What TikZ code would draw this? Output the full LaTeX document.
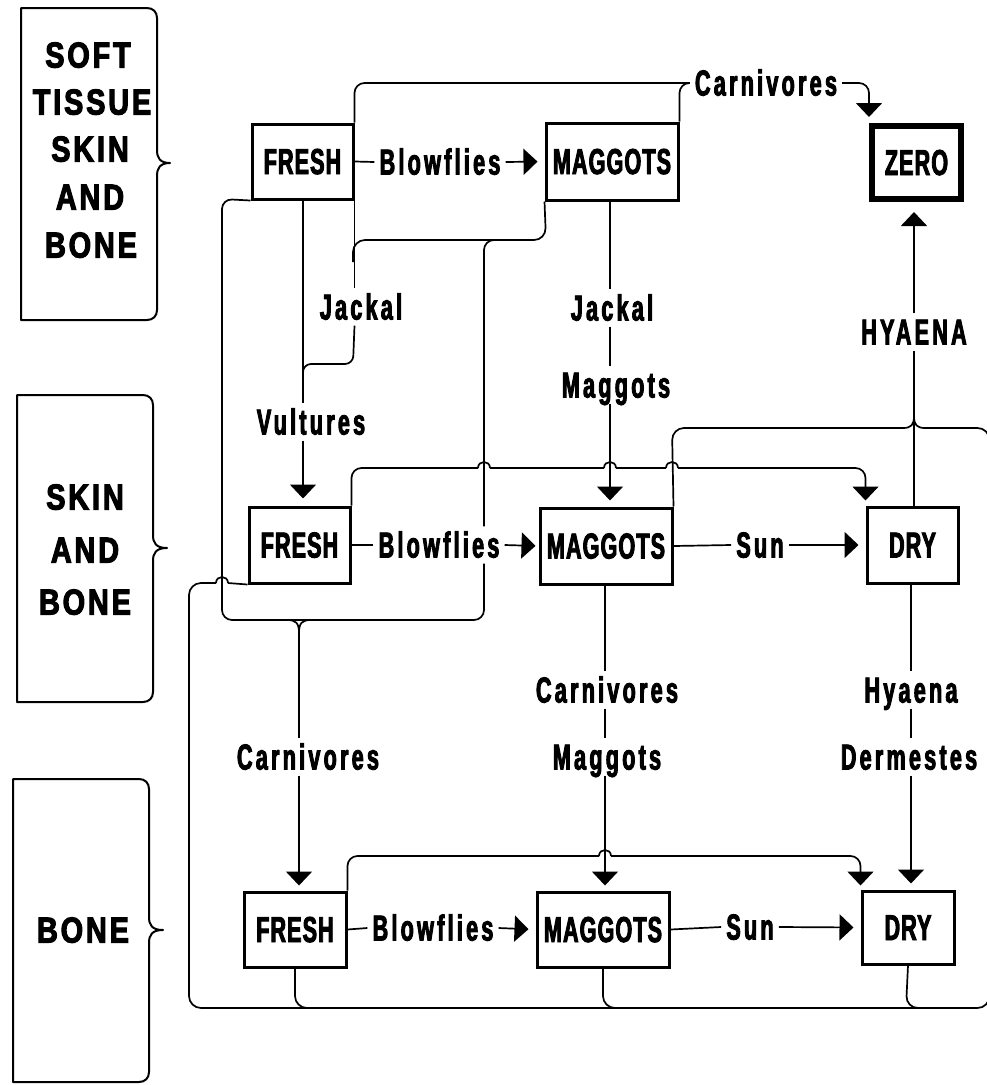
\documentclass[tikz,border=0pt]{standalone}
\usepackage{fontspec}
\usetikzlibrary{arrows.meta}
\newfontfamily\boxfont{Liberation Sans}[FakeStretch=0.6,LetterSpace=3,FakeBold=2.5]
\newfontfamily\edgefont{Liberation Sans}[FakeStretch=0.6,LetterSpace=9,FakeBold=2.5]
\newfontfamily\sidefont{Liberation Sans}[FakeStretch=0.8,LetterSpace=8,FakeBold=3]
\tikzset{
  box/.style={draw, line width=3pt, inner sep=0pt, font=\boxfont\bfseries\fontsize{36}{40}\selectfont, text height=25pt, text depth=0pt},
  lab/.style={inner xsep=5pt, inner ysep=6pt, font=\edgefont\bfseries\fontsize{36}{40}\selectfont, text height=25pt, text depth=0pt},
  sidetext/.style={inner sep=0pt, font=\sidefont\bfseries\fontsize{36}{40}\selectfont, text height=25pt, text depth=0pt},
  conn/.style={line width=1.7pt},
  arr/.style={conn, -{Triangle[length=14pt,width=26pt]}},
  bracket/.style={line width=2pt, line join=round},
}
\begin{document}
\begin{tikzpicture}[x=1pt,y=-1pt]
\useasboundingbox (0,0) rectangle (987,1085);

% ---------- side brackets ----------
\draw[bracket] (21,320) -- (21,8) -- (147,8) .. controls (153,8) and (157,12) .. (157,18)
  -- (157,150) .. controls (157,158) and (160,163) .. (170,163)
  .. controls (160,163) and (157,168) .. (157,176) -- (157,310)
  .. controls (157,316) and (153,320) .. (147,320) -- cycle;
\draw[bracket] (17,702) -- (17,395) -- (143,395) .. controls (149,395) and (153,399) .. (153,405)
  -- (153,535) .. controls (153,543) and (156,548) .. (167,548)
  .. controls (156,548) and (153,553) .. (153,561) -- (153,692)
  .. controls (153,698) and (149,702) .. (143,702) -- cycle;
\draw[bracket] (13,1082) -- (13,779) -- (139,779) .. controls (145,779) and (149,783) .. (149,789)
  -- (149,917) .. controls (149,925) and (152,930) .. (163,930)
  .. controls (152,930) and (149,935) .. (149,943) -- (149,1072)
  .. controls (149,1078) and (145,1082) .. (139,1082) -- cycle;

\node[sidetext] (sa) at (88,55) {SOFT};
\node[sidetext] (sb) at (92,102) {TISSUE};
\node[sidetext] (sc) at (90,149) {SKIN};
\node[sidetext] (sd) at (90,197) {AND};
\node[sidetext] (se) at (91,245) {BONE};
\node[sidetext] (ta) at (85,497) {SKIN};
\node[sidetext] (tb) at (85,550) {AND};
\node[sidetext] (tc) at (85,602) {BONE};
\node[sidetext] (ua) at (83,930) {BONE};

% ---------- boxes ----------
\node[box, minimum width=101pt, minimum height=75pt] (F1) at (302.5,161.5) {FRESH};
\node[box, minimum width=132pt, minimum height=77pt] (M1) at (612,161.5) {MAGGOTS};
\node[box, line width=6pt, minimum width=89pt, minimum height=73pt] (Z) at (916.5,162.5) {ZERO};
\draw[line width=1.2pt] ([shift={(5,-5)}]Z.south west) rectangle ([shift={(-5,5)}]Z.north east);
\node[box, minimum width=101pt, minimum height=76pt] (F2) at (299.5,545) {FRESH};
\node[box, minimum width=132pt, minimum height=76pt] (M2) at (606,546) {MAGGOTS};
\node[box, minimum width=91pt, minimum height=76pt] (D2) at (912.5,545) {DRY};
\node[box, minimum width=102pt, minimum height=75pt] (F3) at (295,929.5) {FRESH};
\node[box, minimum width=132pt, minimum height=75pt] (M3) at (603,929.5) {MAGGOTS};
\node[box, minimum width=92pt, minimum height=73pt] (D3) at (908,927.5) {DRY};

% ---------- labels ----------
\node[lab] (bl1) at (440,162) {Blowflies};
\node[lab] (bl2) at (439,545) {Blowflies};
\node[lab] (bl3) at (433,928) {Blowflies};
\node[lab] (sun2) at (760,545) {Sun};
\node[lab] (sun3) at (750,927) {Sun};
\node[lab] (carn1) at (766,83) {Carnivores};
\node[lab] (jack1) at (361,307) {Jackal};
\node[lab] (vult) at (311,422) {Vultures};
\node[lab] (jack2) at (612,308) {Jackal};
\node[lab] (mag1) at (616,385) {Maggots};
\node[lab] (hyA) at (914,332) {HYAENA};
\node[lab] (carn2) at (308,757) {Carnivores};
\node[lab] (carn3) at (607,690) {Carnivores};
\node[lab] (mag2) at (607,757) {Maggots};
\node[lab] (hy) at (911,690) {Hyaena};
\node[lab] (derm) at (909,757) {Dermestes};

% column coordinates
\coordinate (cF) at (303,0);
\coordinate (cF3) at (299,0);
\coordinate (cM) at (610,0);
\coordinate (cM2) at (605,0);
\coordinate (cD) at (914,0);
\coordinate (cD2) at (911,0);
\coordinate (cX) at (484,0);

% ---------- row 1 ----------
\draw[conn] (F1.east) -- (bl1.west);
\draw[arr, shorten >=7pt] (bl1.east) -- (M1.west);
\draw[conn, rounded corners=10pt] (F1.north east) |- (carn1.west);
\draw[conn, rounded corners=10pt] (M1.north east) |- (carn1.west);
\draw[arr, rounded corners=10pt, shorten >=6pt] (carn1.east) -| (Z.north west);

% FRESH1 -> Jackal / Vultures -> FRESH2
\draw[conn] (F1.south -| cF) -- (cF |- vult.north);
\draw[arr, shorten >=7pt] (cF |- vult.south) -- (cF |- F2.north);
\draw[conn] (F1.south east) -- (F1.south east |- jack1.north);
\draw[conn, rounded corners=8pt] (F1.south east |- jack1.south) -- (353,364) -- (303,364) -- (303,382);
\draw[conn, rounded corners=12pt] (M1.south west) -- (546,240) -- (353,240) -- (353,262);

% MAGGOTS1 -> Jackal / Maggots -> MAGGOTS2
\draw[conn] (M1.south -| cM) -- (cM |- jack2.north);
\draw[conn] (cM |- jack2.south) -- (cM |- mag1.north);
\draw[arr, shorten >=6pt] (cM |- mag1.south) -- (cM |- M2.north);

% x=484 branch to Carnivores -> FRESH3
\draw[conn, rounded corners=10pt] (500,240) -- (484,240) -- (cX |- bl2.north);
\draw[conn, rounded corners=10pt] (cX |- bl2.south) -- (484,620) -- (222,620) -- (222,199) -- (F1.south west);
\draw[conn] (287,620) .. controls (296,620) and (299,623) .. (299,633);
\draw[conn] (311,620) .. controls (302,620) and (299,623) .. (299,633);
\draw[conn] (299,633) -- (cF3 |- carn2.north);
\draw[arr, shorten >=5pt] (cF3 |- carn2.south) -- (cF3 |- F3.north);

% ---------- row 2 ----------
\draw[conn] (F2.east) -- (bl2.west);
\draw[arr, shorten >=3pt] (bl2.east) -- (M2.west);
\draw[conn] (M2.east) -- (sun2.west);
\draw[arr, shorten >=7pt] (sun2.east) -- (D2.west);

% y=468 line with hops
\draw[conn, rounded corners=10pt] (F2.north east) |- (478,468);
\draw[conn] (478,468) .. controls (478,460) and (490,460) .. (490,468);
\draw[conn] (490,468) -- (604,468);
\draw[conn] (604,468) .. controls (604,460) and (616,460) .. (616,468);
\draw[conn] (616,468) -- (666,468);
\draw[conn] (666,468) .. controls (666,460) and (678,460) .. (678,468);
\draw[arr, rounded corners=10pt, shorten >=5pt] (678,468) -| (D2.north west);

% MAGGOTS2 right edge and big loop to HYAENA
\draw[conn, rounded corners=12pt] (M2.north east) -- (672,428) -- (903,428);
\draw[conn] (903,428) .. controls (911,428) and (914,425) .. (914,416);
\draw[conn] (925,428) .. controls (917,428) and (914,425) .. (914,416);
\draw[conn, rounded corners=12pt] (925,428) -- (989.5,428) -- (989.5,1008) -- (189,1008) -- (189,583) -- (216,583);
\draw[conn] (216,583) .. controls (216,575) and (228,575) .. (228,583);
\draw[conn] (228,583) -- (F2.south west);

\draw[conn] (D2.north -| cD) -- (cD |- hyA.south);
\draw[arr, shorten >=10pt] (cD |- hyA.north) -- (cD |- Z.south);

% ---------- rows 2 -> 3 ----------
\draw[conn] (M2.south -| cM2) -- (cM2 |- carn3.north);
\draw[conn] (cM2 |- carn3.south) -- (cM2 |- mag2.north);
\draw[arr, shorten >=5pt] (cM2 |- mag2.south) -- (cM2 |- M3.north);
\draw[conn] (D2.south -| cD2) -- (cD2 |- hy.north);
\draw[conn] (cD2 |- hy.south) -- (cD2 |- derm.north);
\draw[arr, shorten >=6pt] (cD2 |- derm.south) -- (cD2 |- D3.north);

% ---------- row 3 ----------
\draw[conn] (F3.east) -- (bl3.west);
\draw[arr, shorten >=7pt] (bl3.east) -- (M3.west);
\draw[conn] (M3.east) -- (sun3.west);
\draw[arr, shorten >=7pt] (sun3.east) -- (D3.west);
\draw[conn, rounded corners=10pt] (F3.north east) |- (599,856);
\draw[conn] (599,856) .. controls (599,848) and (611,848) .. (611,856);
\draw[arr, rounded corners=10pt, shorten >=4pt] (611,856) -| (D3.north west);

\draw[conn, rounded corners=12pt] (F3.south) -- (295,1008) -- (330,1008);
\draw[conn, rounded corners=12pt] (M3.south) -- (603,1008) -- (640,1008);
\draw[conn, rounded corners=12pt] (D3.south) -- (906,1008) -- (945,1008);
\end{tikzpicture}
\end{document}
